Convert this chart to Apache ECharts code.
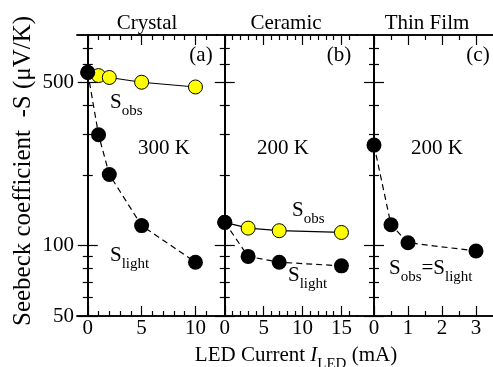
<!DOCTYPE html>
<html>
<head>
<meta charset="utf-8">
<script src="https://cdn.jsdelivr.net/npm/echarts@6/dist/echarts.min.js"></script>
<style>
  html, body { margin: 0; padding: 0; background: #fff; }
  #chart { width: 493px; height: 367px; }
</style>
</head>
<body>
<div id="chart"></div>
<script>
// Crystal, 300 K
const crystalI = [0, 1, 2, 5, 10];
const crystalObs = [553, 536, 526, 502, 479];
const crystalLight = [553, 299, 202, 122, 85];
// Ceramic, 200 K
const ceramicI = [0, 3, 7, 15];
const ceramicObs = [126, 119, 116, 114];
const ceramicLight = [126, 90, 85, 82];
// Thin film, 200 K (S_obs = S_light)
const filmI = [0, 0.5, 1, 3];
const filmLight = [270, 123, 103, 95];

// ticks
const yMajor = [50, 100, 500];
const yMinor = [60, 70, 80, 90, 200, 300, 400, 600, 700];
const xMajorA = [0, 5, 10];
const xMinorA = [1, 2, 3, 4, 6, 7, 8, 9, 11];
const xMajorB = [0, 5, 10, 15];
const xMinorB = [1, 2, 3, 4, 6, 7, 8, 9, 11, 12, 13, 14, 16];
const xMajorC = [0, 1, 2, 3];
const xMinorC = [0.5, 1.5, 2.5];

const FONT = "Liberation Serif";
const YELLOW = "#ffff00";

const panels = [
  { left: 77, width: 140, min: -1, max: 12, major: xMajorA, minor: xMinorA },
  { left: 217, width: 140, min: -1, max: 17, major: xMajorB, minor: xMinorB },
  { left: 357, width: 141, min: -0.5, max: 3.5, major: xMajorC, minor: xMinorC }
];

const grid = [];
const xAxis = [];
const yAxis = [];
const line = { show: true, lineStyle: { color: "#000", width: 1.5 } };

panels.forEach((p, g) => {
  grid.push({ left: p.left, width: p.width, top: 35, height: 281 });
  [["bottom", p.major, 10, true], ["bottom", p.minor, 5, false],
   ["top", p.major, 10, false], ["top", p.minor, 5, false]].forEach(([pos, vals, len, lab]) => {
    xAxis.push({
      type: "value", gridIndex: g, position: pos, min: p.min, max: p.max,
      axisLine: line, splitLine: { show: false },
      axisTick: { show: true, inside: true, length: len, customValues: vals, lineStyle: { color: "#000", width: 1.2 } },
      axisLabel: lab
        ? { show: true, customValues: vals, margin: 2, color: "#000", fontFamily: FONT, fontSize: 21 }
        : { show: false }
    });
  });
  [["left", yMajor, 10, g === 0], ["left", yMinor, 5, false],
   ["right", yMajor, 10, false], ["right", yMinor, 5, false]].forEach(([pos, vals, len, lab]) => {
    yAxis.push({
      type: "log", logBase: 10, gridIndex: g, position: pos, min: 50, max: 800,
      axisLine: line, splitLine: { show: false },
      axisTick: { show: true, inside: true, length: len, customValues: vals, lineStyle: { color: "#000", width: 1.2 } },
      axisLabel: lab
        ? { show: true, customValues: vals, margin: 3, color: "#000", fontFamily: FONT, fontSize: 21 }
        : { show: false }
    });
  });
});

const pairs = (xs, ys) => xs.map((x, i) => [x, ys[i]]);
const obsSeries = (g, xs, ys) => ({
  type: "line", xAxisIndex: 4 * g, yAxisIndex: 4 * g, data: pairs(xs, ys),
  symbol: "circle", symbolSize: 14, z: 3,
  itemStyle: { color: YELLOW, borderColor: "#000", borderWidth: 1 },
  lineStyle: { color: "#000", width: 1.2 }
});
const lightSeries = (g, xs, ys) => ({
  type: "line", xAxisIndex: 4 * g, yAxisIndex: 4 * g, data: pairs(xs, ys),
  symbol: "circle", symbolSize: 15, z: 4,
  itemStyle: { color: "#000" },
  lineStyle: { color: "#000", width: 1.2, type: [6, 4] }
});

const rich = {
  m: { fontFamily: FONT, fontSize: 21, color: "#000", padding: [0, 0, 6, 0], verticalAlign: "bottom" },
  i: { fontFamily: FONT, fontSize: 21, fontStyle: "italic", color: "#000", padding: [0, 0, 6, 0], verticalAlign: "bottom" },
  s: { fontFamily: FONT, fontSize: 15, color: "#000", verticalAlign: "bottom" }
};
const label = (x, y, text, align, size) => ({
  type: "text", x: x, y: y, z: 10,
  style: { text: text, fontFamily: FONT, fontSize: size || 21, fill: "#000", align: align || "center", verticalAlign: "middle" }
});
const richLabel = (x, y, text, align, extra) => ({
  type: "text", x: x, y: y, z: 10,
  style: Object.assign({ text: text, rich: rich, align: align || "left", verticalAlign: "middle" }, extra || {})
});

const graphic = [
  label(147, 23, "Crystal"),
  label(286, 23, "Ceramic"),
  label(427, 23, "Thin Film"),
  label(201, 55, "(a)"),
  label(339, 55, "(b)"),
  label(478, 55, "(c)"),
  label(164, 148, "300 K"),
  label(283, 148, "200 K"),
  label(437, 148, "200 K"),
  richLabel(110, 105, "{m|S}{s|obs}"),
  richLabel(110, 258, "{m|S}{s|light}"),
  richLabel(292, 213, "{m|S}{s|obs}"),
  richLabel(288, 278, "{m|S}{s|light}"),
  richLabel(389, 271, "{m|S}{s|obs}{m|=S}{s|light}"),
  richLabel(296, 358, "{m|LED Current }{i|I}{s|LED}{m| (mA)}", "center"),
  {
    type: "text", x: 23, y: 171, rotation: Math.PI / 2, z: 10,
    style: { text: "Seebeck coefficient  -S (μV/K)", fontFamily: FONT, fontSize: 25, fill: "#000", align: "center", verticalAlign: "middle" }
  }
];

const chart = echarts.init(document.getElementById("chart"));
chart.setOption({
  animation: false,
  backgroundColor: "#fff",
  grid: grid,
  xAxis: xAxis,
  yAxis: yAxis,
  graphic: graphic,
  series: [
    obsSeries(0, crystalI, crystalObs),
    lightSeries(0, crystalI, crystalLight),
    obsSeries(1, ceramicI, ceramicObs),
    lightSeries(1, ceramicI, ceramicLight),
    lightSeries(2, filmI, filmLight)
  ]
});
</script>
</body>
</html>
